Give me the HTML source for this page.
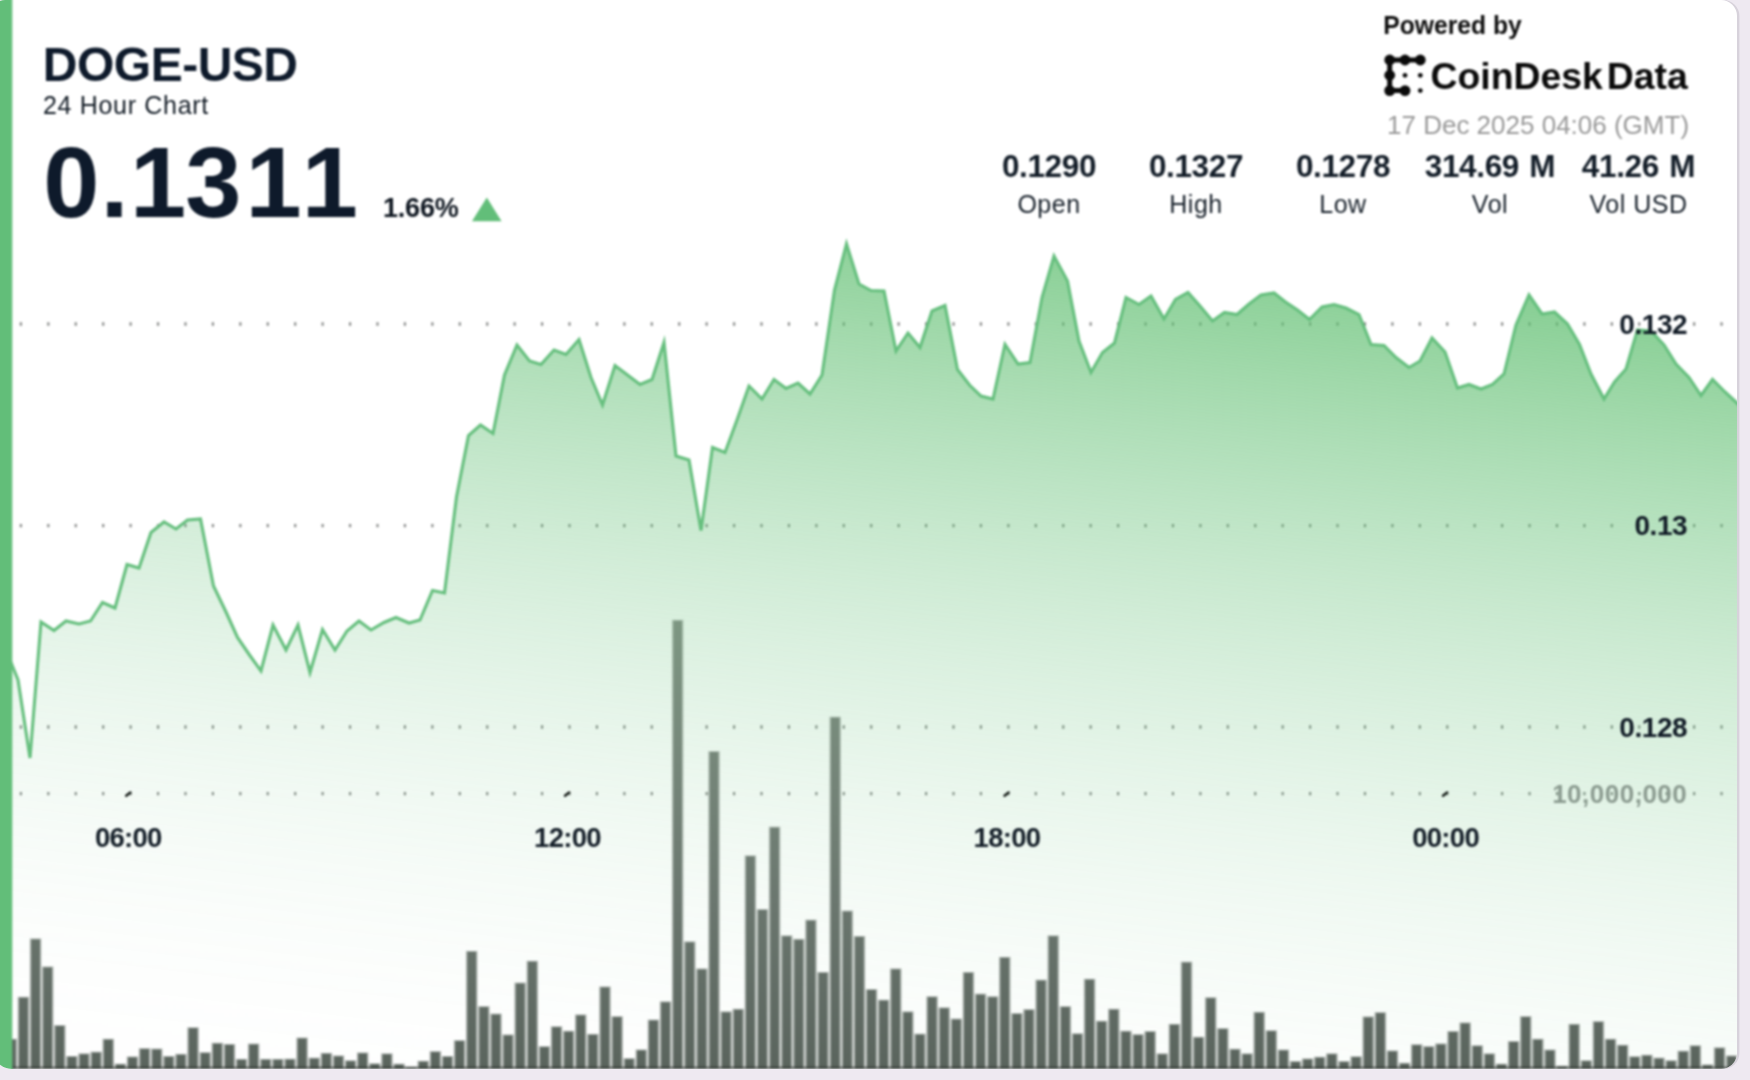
<!DOCTYPE html>
<html lang="en">
<head>
<meta charset="utf-8">
<title>DOGE-USD 24 Hour Chart</title>
<style>
  html, body { margin: 0; padding: 0; }
  body { width: 1750px; height: 1080px; overflow: hidden; background: #eee9f1; font-family: 'Liberation Sans', Arial, Helvetica, sans-serif; }
  .card { position: absolute; left: -7px; top: 0; width: 1743.8px; height: 1068.8px;
          background: #ffffff; border-radius: 12px 16px 16px 19px; overflow: hidden;
          box-shadow: 2.4px 0 0 0 #d7d2db; }
  svg { position: absolute; left: 7px; top: 0; filter: blur(0.8px); overflow: visible; }
  text { font-family: 'Liberation Sans', Arial, Helvetica, sans-serif; }
  .title { font-size: 48px; font-weight: 700; fill: #0e1a2b; letter-spacing: -0.5px; }
  .sub   { font-size: 25px; fill: #111a24; letter-spacing: 0.68px; }
  .price { font-size: 101px; font-weight: 700; fill: #0e1a2b; letter-spacing: 0px; }
  .pct   { font-size: 27px; font-weight: 700; fill: #0f1721; letter-spacing: -0.2px; }
  .pow   { font-size: 26.3px; font-weight: 700; fill: #0e0e0e; }
  .logo  { font-size: 37.5px; font-weight: 700; fill: #0a0a0a; }
  .ts    { font-size: 26px; fill: #989898; }
  .sv    { font-size: 31.5px; font-weight: 700; fill: #131d28; text-anchor: middle; letter-spacing: -0.35px; word-spacing: 2px; }
  .sl    { font-size: 25px; fill: #161f29; text-anchor: middle; letter-spacing: 0.5px; }
  .yl    { font-size: 28px; font-weight: 700; fill: #101a25; text-anchor: end; letter-spacing: -0.4px; }
  .vl    { font-size: 26px; font-weight: 700; fill: #8b9b90; text-anchor: end; letter-spacing: 0.5px; }
  .xl    { font-size: 27.5px; font-weight: 700; fill: #141e28; text-anchor: middle; letter-spacing: -0.7px; }
</style>
</head>
<body>
<div class="card">
<svg width="1750" height="1080" viewBox="0 0 1750 1080">
  <defs>
    <linearGradient id="fillg" gradientUnits="userSpaceOnUse" x1="1737.0" y1="230.0" x2="1611.6" y2="1275.0">
<stop offset="0.0000" stop-color="rgb(94,190,111)" stop-opacity="0.8896"/>
<stop offset="0.0625" stop-color="rgb(94,190,111)" stop-opacity="0.7819"/>
<stop offset="0.1250" stop-color="rgb(94,190,111)" stop-opacity="0.6811"/>
<stop offset="0.1875" stop-color="rgb(94,190,111)" stop-opacity="0.5872"/>
<stop offset="0.2500" stop-color="rgb(94,190,112)" stop-opacity="0.5003"/>
<stop offset="0.3125" stop-color="rgb(94,190,113)" stop-opacity="0.4204"/>
<stop offset="0.3750" stop-color="rgb(95,190,114)" stop-opacity="0.3474"/>
<stop offset="0.4375" stop-color="rgb(95,190,115)" stop-opacity="0.2814"/>
<stop offset="0.5000" stop-color="rgb(95,190,116)" stop-opacity="0.2223"/>
<stop offset="0.5625" stop-color="rgb(95,190,117)" stop-opacity="0.1702"/>
<stop offset="0.6250" stop-color="rgb(96,190,118)" stop-opacity="0.1250"/>
<stop offset="0.6875" stop-color="rgb(96,190,119)" stop-opacity="0.0868"/>
<stop offset="0.7500" stop-color="rgb(96,190,119)" stop-opacity="0.0555"/>
<stop offset="0.8125" stop-color="rgb(96,190,119)" stop-opacity="0.0312"/>
<stop offset="0.8750" stop-color="rgb(96,190,120)" stop-opacity="0.0139"/>
<stop offset="0.9375" stop-color="rgb(96,190,120)" stop-opacity="0.0035"/>
<stop offset="1.0000" stop-color="rgb(96,190,120)" stop-opacity="0.0000"/>
    </linearGradient>
    <linearGradient id="barg" gradientUnits="userSpaceOnUse" x1="0" y1="620" x2="0" y2="1069">
      <stop offset="0" stop-color="#7d9782"/>
      <stop offset="0.312" stop-color="#76877a"/>
      <stop offset="0.624" stop-color="#6b776f"/>
      <stop offset="1" stop-color="#5a645d"/>
    </linearGradient>
  </defs>

  <!-- grid -->
<line x1="19.8" y1="324" x2="1737" y2="324" stroke="#7d807e" stroke-opacity="0.9" stroke-width="3.3" stroke-dasharray="2.2 25.23" />
<line x1="19.8" y1="525.7" x2="1737" y2="525.7" stroke="#7d807e" stroke-opacity="0.9" stroke-width="3.3" stroke-dasharray="2.2 25.23" />
<line x1="19.8" y1="727" x2="1737" y2="727" stroke="#7d807e" stroke-opacity="0.9" stroke-width="3.3" stroke-dasharray="2.2 25.23" />
<line x1="19.8" y1="793.6" x2="1737" y2="793.6" stroke="#7d807e" stroke-opacity="0.9" stroke-width="3.3" stroke-dasharray="2.2 25.23" />

  <!-- price area -->
  <path d="M6 650 L18 680 L30 758 L41 622 L54 630.5 L66 621 L79 624 L90.5 621 L102.5 602.5 L115 608 L127 564.5 L139 568 L151 532.5 L164 522 L176 529 L187.5 520 L200.5 519 L213.5 586 L226 612 L237.5 637.5 L249.5 655 L261 671 L273 625 L286 650 L298 625 L310 672.5 L322.5 629.5 L335 650 L347 631 L359 621 L371 630 L384 622.5 L396 617.5 L409 623 L420 620 L432.5 590.5 L444.5 593 L456.5 497 L468.5 435.5 L480.5 425 L493 433.5 L504.5 375 L517 345 L529.5 361 L541 364.5 L554 350 L566 354.5 L579 339.5 L591 377.5 L602.5 405 L615 365.5 L627.5 375 L640 384.5 L652 379.5 L664 342.5 L676 456 L689 460 L701 530.5 L712.5 447.5 L725 452.5 L737 420 L749 386 L762 399 L774 379.5 L786 388.5 L798 383 L810 394 L822 375 L834.5 290 L846.5 244 L859 284 L871 290.5 L884 291 L896 351 L908 333 L920 347.5 L932 311 L945 305.5 L957.5 369.5 L969.5 385 L981 396 L993 399 L1005 344.5 L1018 364 L1030 362.5 L1042 297.5 L1054 256 L1067.5 281 L1079 341 L1091 372.5 L1102.5 352.5 L1114.5 343 L1126 297.5 L1139 304.5 L1151 296 L1164 319 L1175.5 299.5 L1188 292.5 L1200 306 L1212.5 321 L1224.5 312.5 L1237 314.5 L1249 304 L1261 295 L1274 293 L1285.5 302 L1297.5 310 L1309.5 319.5 L1322 307 L1334 304.5 L1346 308 L1359 314.5 L1371 344.5 L1384 345.5 L1396 357.5 L1409 367.5 L1420 361 L1432 338 L1445 352 L1457.5 388 L1469 384.5 L1481 389 L1492.5 384.5 L1504 374 L1516 325 L1529 295 L1542 314 L1554.5 312 L1567.5 324 L1579.5 344.5 L1591 374 L1604 399 L1614.5 382 L1626 369 L1637.5 330 L1651 331 L1664 345 L1676 364 L1689 377.5 L1701 395.5 L1712.5 379.5 L1725 392 L1738 404 L1752 417 L1752 1074.8 L-6 1074.8 L-6 620 Z" fill="url(#fillg)"/>

  <!-- volume bars -->
  <g fill="url(#barg)" opacity="0.5">
<rect x="5.55" y="1038.8" width="11.6" height="30.0"/>
<rect x="17.66" y="996.8" width="11.6" height="72.0"/>
<rect x="29.78" y="938.5" width="11.6" height="130.3"/>
<rect x="41.89" y="966.5" width="11.6" height="102.3"/>
<rect x="54.01" y="1025.1" width="11.6" height="43.7"/>
<rect x="66.13" y="1056" width="11.6" height="12.8"/>
<rect x="78.24" y="1053.4" width="11.6" height="15.4"/>
<rect x="90.36" y="1051.7" width="11.6" height="17.1"/>
<rect x="102.47" y="1038.8" width="11.6" height="30.0"/>
<rect x="114.59" y="1063.7" width="11.6" height="5.1"/>
<rect x="126.70" y="1056.5" width="11.6" height="12.3"/>
<rect x="138.82" y="1048.2" width="11.6" height="20.6"/>
<rect x="150.93" y="1048.6" width="11.6" height="20.2"/>
<rect x="163.05" y="1056" width="11.6" height="12.8"/>
<rect x="175.16" y="1053.9" width="11.6" height="14.9"/>
<rect x="187.28" y="1027.3" width="11.6" height="41.5"/>
<rect x="199.39" y="1052.2" width="11.6" height="16.6"/>
<rect x="211.51" y="1042.8" width="11.6" height="26.0"/>
<rect x="223.62" y="1044" width="11.6" height="24.8"/>
<rect x="235.74" y="1058.9" width="11.6" height="9.9"/>
<rect x="247.85" y="1043.6" width="11.6" height="25.2"/>
<rect x="259.96" y="1058.9" width="11.6" height="9.9"/>
<rect x="272.08" y="1058.9" width="11.6" height="9.9"/>
<rect x="284.19" y="1058.7" width="11.6" height="10.1"/>
<rect x="296.31" y="1037.6" width="11.6" height="31.2"/>
<rect x="308.42" y="1057.7" width="11.6" height="11.1"/>
<rect x="320.54" y="1052.9" width="11.6" height="15.9"/>
<rect x="332.65" y="1055.5" width="11.6" height="13.3"/>
<rect x="344.77" y="1060.3" width="11.6" height="8.5"/>
<rect x="356.88" y="1052.5" width="11.6" height="16.3"/>
<rect x="369.00" y="1063.3" width="11.6" height="5.5"/>
<rect x="381.11" y="1053.4" width="11.6" height="15.4"/>
<rect x="393.23" y="1063.7" width="11.6" height="5.1"/>
<rect x="405.34" y="1066.9" width="11.6" height="1.9"/>
<rect x="417.46" y="1060.8" width="11.6" height="8.0"/>
<rect x="429.57" y="1051.2" width="11.6" height="17.6"/>
<rect x="441.69" y="1056" width="11.6" height="12.8"/>
<rect x="453.80" y="1040.2" width="11.6" height="28.6"/>
<rect x="465.92" y="950.9" width="11.6" height="117.9"/>
<rect x="478.03" y="1006.2" width="11.6" height="62.6"/>
<rect x="490.15" y="1013.6" width="11.6" height="55.2"/>
<rect x="502.26" y="1034.5" width="11.6" height="34.3"/>
<rect x="514.38" y="982.6" width="11.6" height="86.2"/>
<rect x="526.50" y="960.8" width="11.6" height="108.0"/>
<rect x="538.61" y="1046.2" width="11.6" height="22.6"/>
<rect x="550.72" y="1026.3" width="11.6" height="42.5"/>
<rect x="562.84" y="1030.8" width="11.6" height="38.0"/>
<rect x="574.95" y="1014.5" width="11.6" height="54.3"/>
<rect x="587.07" y="1033.9" width="11.6" height="34.9"/>
<rect x="599.18" y="986.5" width="11.6" height="82.3"/>
<rect x="611.30" y="1016.2" width="11.6" height="52.6"/>
<rect x="623.41" y="1058.2" width="11.6" height="10.6"/>
<rect x="635.53" y="1049.5" width="11.6" height="19.3"/>
<rect x="647.64" y="1019.6" width="11.6" height="49.2"/>
<rect x="659.76" y="1001.4" width="11.6" height="67.4"/>
<rect x="671.88" y="619.8" width="11.6" height="449.0"/>
<rect x="683.99" y="941.4" width="11.6" height="127.4"/>
<rect x="696.11" y="968.5" width="11.6" height="100.3"/>
<rect x="708.22" y="751.1" width="11.6" height="317.7"/>
<rect x="720.33" y="1011.4" width="11.6" height="57.4"/>
<rect x="732.45" y="1008.8" width="11.6" height="60.0"/>
<rect x="744.56" y="855.4" width="11.6" height="213.4"/>
<rect x="756.68" y="909.1" width="11.6" height="159.7"/>
<rect x="768.79" y="826.7" width="11.6" height="242.1"/>
<rect x="780.91" y="935.4" width="11.6" height="133.4"/>
<rect x="793.02" y="938.9" width="11.6" height="129.9"/>
<rect x="805.14" y="919.7" width="11.6" height="149.1"/>
<rect x="817.25" y="972" width="11.6" height="96.8"/>
<rect x="829.37" y="716.7" width="11.6" height="352.1"/>
<rect x="841.49" y="910.6" width="11.6" height="158.2"/>
<rect x="853.60" y="936" width="11.6" height="132.8"/>
<rect x="865.71" y="989.1" width="11.6" height="79.7"/>
<rect x="877.83" y="999.7" width="11.6" height="69.1"/>
<rect x="889.94" y="968.5" width="11.6" height="100.3"/>
<rect x="902.06" y="1011.4" width="11.6" height="57.4"/>
<rect x="914.17" y="1033.7" width="11.6" height="35.1"/>
<rect x="926.29" y="996.3" width="11.6" height="72.5"/>
<rect x="938.40" y="1007.4" width="11.6" height="61.4"/>
<rect x="950.52" y="1018.6" width="11.6" height="50.2"/>
<rect x="962.63" y="972" width="11.6" height="96.8"/>
<rect x="974.75" y="993.7" width="11.6" height="75.1"/>
<rect x="986.87" y="996.3" width="11.6" height="72.5"/>
<rect x="998.98" y="956.9" width="11.6" height="111.9"/>
<rect x="1011.10" y="1013.1" width="11.6" height="55.7"/>
<rect x="1023.21" y="1009.2" width="11.6" height="59.6"/>
<rect x="1035.33" y="979.7" width="11.6" height="89.1"/>
<rect x="1047.44" y="935.4" width="11.6" height="133.4"/>
<rect x="1059.56" y="1006.2" width="11.6" height="62.6"/>
<rect x="1071.67" y="1033.3" width="11.6" height="35.5"/>
<rect x="1083.79" y="978.8" width="11.6" height="90.0"/>
<rect x="1095.90" y="1020.8" width="11.6" height="48.0"/>
<rect x="1108.02" y="1008.8" width="11.6" height="60.0"/>
<rect x="1120.13" y="1030.8" width="11.6" height="38.0"/>
<rect x="1132.25" y="1034.2" width="11.6" height="34.6"/>
<rect x="1144.36" y="1031.1" width="11.6" height="37.7"/>
<rect x="1156.48" y="1053.4" width="11.6" height="15.4"/>
<rect x="1168.59" y="1023.9" width="11.6" height="44.9"/>
<rect x="1180.71" y="961.7" width="11.6" height="107.1"/>
<rect x="1192.82" y="1036.8" width="11.6" height="32.0"/>
<rect x="1204.94" y="997.3" width="11.6" height="71.5"/>
<rect x="1217.05" y="1028.2" width="11.6" height="40.6"/>
<rect x="1229.17" y="1048.8" width="11.6" height="20.0"/>
<rect x="1241.28" y="1053.4" width="11.6" height="15.4"/>
<rect x="1253.40" y="1011.9" width="11.6" height="56.9"/>
<rect x="1265.51" y="1030.3" width="11.6" height="38.5"/>
<rect x="1277.63" y="1049.6" width="11.6" height="19.2"/>
<rect x="1289.74" y="1061.1" width="11.6" height="7.7"/>
<rect x="1301.86" y="1058.5" width="11.6" height="10.3"/>
<rect x="1313.97" y="1056.8" width="11.6" height="12.0"/>
<rect x="1326.09" y="1053.4" width="11.6" height="15.4"/>
<rect x="1338.20" y="1061.1" width="11.6" height="7.7"/>
<rect x="1350.32" y="1056.3" width="11.6" height="12.5"/>
<rect x="1362.43" y="1016.5" width="11.6" height="52.3"/>
<rect x="1374.55" y="1012.2" width="11.6" height="56.6"/>
<rect x="1386.66" y="1050.5" width="11.6" height="18.3"/>
<rect x="1398.78" y="1062.8" width="11.6" height="6.0"/>
<rect x="1410.89" y="1044.3" width="11.6" height="24.5"/>
<rect x="1423.01" y="1046.2" width="11.6" height="22.6"/>
<rect x="1435.12" y="1043.5" width="11.6" height="25.3"/>
<rect x="1447.24" y="1031.1" width="11.6" height="37.7"/>
<rect x="1459.35" y="1022.5" width="11.6" height="46.3"/>
<rect x="1471.47" y="1045.3" width="11.6" height="23.5"/>
<rect x="1483.58" y="1053.4" width="11.6" height="15.4"/>
<rect x="1495.70" y="1063.7" width="11.6" height="5.1"/>
<rect x="1507.81" y="1041.1" width="11.6" height="27.7"/>
<rect x="1519.93" y="1016.2" width="11.6" height="52.6"/>
<rect x="1532.04" y="1038.8" width="11.6" height="30.0"/>
<rect x="1544.16" y="1049.6" width="11.6" height="19.2"/>
<rect x="1556.27" y="1065.7" width="11.6" height="3.1"/>
<rect x="1568.39" y="1023.9" width="11.6" height="44.9"/>
<rect x="1580.50" y="1060.3" width="11.6" height="8.5"/>
<rect x="1592.62" y="1021.2" width="11.6" height="47.6"/>
<rect x="1604.73" y="1038.8" width="11.6" height="30.0"/>
<rect x="1616.85" y="1044.8" width="11.6" height="24.0"/>
<rect x="1628.96" y="1056.3" width="11.6" height="12.5"/>
<rect x="1641.08" y="1054.8" width="11.6" height="14.0"/>
<rect x="1653.19" y="1057.7" width="11.6" height="11.1"/>
<rect x="1665.31" y="1060.3" width="11.6" height="8.5"/>
<rect x="1677.42" y="1050.8" width="11.6" height="18.0"/>
<rect x="1689.54" y="1045.3" width="11.6" height="23.5"/>
<rect x="1701.65" y="1064.5" width="11.6" height="4.3"/>
<rect x="1713.77" y="1047.4" width="11.6" height="21.4"/>
<rect x="1725.88" y="1055.5" width="11.6" height="13.3"/>
  </g>
  <g fill="url(#barg)">
<rect x="7.00" y="1039.7" width="8.7" height="29.1"/>
<rect x="19.12" y="997.7" width="8.7" height="71.1"/>
<rect x="31.23" y="939.4" width="8.7" height="129.4"/>
<rect x="43.34" y="967.4" width="8.7" height="101.4"/>
<rect x="55.46" y="1026" width="8.7" height="42.8"/>
<rect x="67.58" y="1056.9" width="8.7" height="11.9"/>
<rect x="79.69" y="1054.3" width="8.7" height="14.5"/>
<rect x="91.81" y="1052.6" width="8.7" height="16.2"/>
<rect x="103.92" y="1039.7" width="8.7" height="29.1"/>
<rect x="116.03" y="1064.6" width="8.7" height="4.2"/>
<rect x="128.15" y="1057.4" width="8.7" height="11.4"/>
<rect x="140.27" y="1049.1" width="8.7" height="19.7"/>
<rect x="152.38" y="1049.5" width="8.7" height="19.3"/>
<rect x="164.50" y="1056.9" width="8.7" height="11.9"/>
<rect x="176.61" y="1054.8" width="8.7" height="14.0"/>
<rect x="188.72" y="1028.2" width="8.7" height="40.6"/>
<rect x="200.84" y="1053.1" width="8.7" height="15.7"/>
<rect x="212.96" y="1043.7" width="8.7" height="25.1"/>
<rect x="225.07" y="1044.9" width="8.7" height="23.9"/>
<rect x="237.19" y="1059.8" width="8.7" height="9.0"/>
<rect x="249.30" y="1044.5" width="8.7" height="24.3"/>
<rect x="261.42" y="1059.8" width="8.7" height="9.0"/>
<rect x="273.53" y="1059.8" width="8.7" height="9.0"/>
<rect x="285.64" y="1059.6" width="8.7" height="9.2"/>
<rect x="297.76" y="1038.5" width="8.7" height="30.3"/>
<rect x="309.88" y="1058.6" width="8.7" height="10.2"/>
<rect x="321.99" y="1053.8" width="8.7" height="15.0"/>
<rect x="334.11" y="1056.4" width="8.7" height="12.4"/>
<rect x="346.22" y="1061.2" width="8.7" height="7.6"/>
<rect x="358.33" y="1053.4" width="8.7" height="15.4"/>
<rect x="370.45" y="1064.2" width="8.7" height="4.6"/>
<rect x="382.56" y="1054.3" width="8.7" height="14.5"/>
<rect x="394.68" y="1064.6" width="8.7" height="4.2"/>
<rect x="406.80" y="1067.8" width="8.7" height="1.0"/>
<rect x="418.91" y="1061.7" width="8.7" height="7.1"/>
<rect x="431.03" y="1052.1" width="8.7" height="16.7"/>
<rect x="443.14" y="1056.9" width="8.7" height="11.9"/>
<rect x="455.25" y="1041.1" width="8.7" height="27.7"/>
<rect x="467.37" y="951.8" width="8.7" height="117.0"/>
<rect x="479.49" y="1007.1" width="8.7" height="61.7"/>
<rect x="491.60" y="1014.5" width="8.7" height="54.3"/>
<rect x="503.72" y="1035.4" width="8.7" height="33.4"/>
<rect x="515.83" y="983.5" width="8.7" height="85.3"/>
<rect x="527.95" y="961.7" width="8.7" height="107.1"/>
<rect x="540.06" y="1047.1" width="8.7" height="21.7"/>
<rect x="552.17" y="1027.2" width="8.7" height="41.6"/>
<rect x="564.29" y="1031.7" width="8.7" height="37.1"/>
<rect x="576.40" y="1015.4" width="8.7" height="53.4"/>
<rect x="588.52" y="1034.8" width="8.7" height="34.0"/>
<rect x="600.63" y="987.4" width="8.7" height="81.4"/>
<rect x="612.75" y="1017.1" width="8.7" height="51.7"/>
<rect x="624.87" y="1059.1" width="8.7" height="9.7"/>
<rect x="636.98" y="1050.4" width="8.7" height="18.4"/>
<rect x="649.10" y="1020.5" width="8.7" height="48.3"/>
<rect x="661.21" y="1002.3" width="8.7" height="66.5"/>
<rect x="673.33" y="620.7" width="8.7" height="448.1"/>
<rect x="685.44" y="942.3" width="8.7" height="126.5"/>
<rect x="697.56" y="969.4" width="8.7" height="99.4"/>
<rect x="709.67" y="752" width="8.7" height="316.8"/>
<rect x="721.78" y="1012.3" width="8.7" height="56.5"/>
<rect x="733.90" y="1009.7" width="8.7" height="59.1"/>
<rect x="746.01" y="856.3" width="8.7" height="212.5"/>
<rect x="758.13" y="910" width="8.7" height="158.8"/>
<rect x="770.25" y="827.6" width="8.7" height="241.2"/>
<rect x="782.36" y="936.3" width="8.7" height="132.5"/>
<rect x="794.48" y="939.8" width="8.7" height="129.0"/>
<rect x="806.59" y="920.6" width="8.7" height="148.2"/>
<rect x="818.71" y="972.9" width="8.7" height="95.9"/>
<rect x="830.82" y="717.6" width="8.7" height="351.2"/>
<rect x="842.94" y="911.5" width="8.7" height="157.3"/>
<rect x="855.05" y="936.9" width="8.7" height="131.9"/>
<rect x="867.16" y="990" width="8.7" height="78.8"/>
<rect x="879.28" y="1000.6" width="8.7" height="68.2"/>
<rect x="891.39" y="969.4" width="8.7" height="99.4"/>
<rect x="903.51" y="1012.3" width="8.7" height="56.5"/>
<rect x="915.62" y="1034.6" width="8.7" height="34.2"/>
<rect x="927.74" y="997.2" width="8.7" height="71.6"/>
<rect x="939.86" y="1008.3" width="8.7" height="60.5"/>
<rect x="951.97" y="1019.5" width="8.7" height="49.3"/>
<rect x="964.09" y="972.9" width="8.7" height="95.9"/>
<rect x="976.20" y="994.6" width="8.7" height="74.2"/>
<rect x="988.32" y="997.2" width="8.7" height="71.6"/>
<rect x="1000.43" y="957.8" width="8.7" height="111.0"/>
<rect x="1012.55" y="1014" width="8.7" height="54.8"/>
<rect x="1024.66" y="1010.1" width="8.7" height="58.7"/>
<rect x="1036.78" y="980.6" width="8.7" height="88.2"/>
<rect x="1048.89" y="936.3" width="8.7" height="132.5"/>
<rect x="1061.01" y="1007.1" width="8.7" height="61.7"/>
<rect x="1073.12" y="1034.2" width="8.7" height="34.6"/>
<rect x="1085.24" y="979.7" width="8.7" height="89.1"/>
<rect x="1097.35" y="1021.7" width="8.7" height="47.1"/>
<rect x="1109.46" y="1009.7" width="8.7" height="59.1"/>
<rect x="1121.58" y="1031.7" width="8.7" height="37.1"/>
<rect x="1133.69" y="1035.1" width="8.7" height="33.7"/>
<rect x="1145.81" y="1032" width="8.7" height="36.8"/>
<rect x="1157.92" y="1054.3" width="8.7" height="14.5"/>
<rect x="1170.04" y="1024.8" width="8.7" height="44.0"/>
<rect x="1182.15" y="962.6" width="8.7" height="106.2"/>
<rect x="1194.27" y="1037.7" width="8.7" height="31.1"/>
<rect x="1206.38" y="998.2" width="8.7" height="70.6"/>
<rect x="1218.50" y="1029.1" width="8.7" height="39.7"/>
<rect x="1230.62" y="1049.7" width="8.7" height="19.1"/>
<rect x="1242.73" y="1054.3" width="8.7" height="14.5"/>
<rect x="1254.85" y="1012.8" width="8.7" height="56.0"/>
<rect x="1266.96" y="1031.2" width="8.7" height="37.6"/>
<rect x="1279.08" y="1050.5" width="8.7" height="18.3"/>
<rect x="1291.19" y="1062" width="8.7" height="6.8"/>
<rect x="1303.31" y="1059.4" width="8.7" height="9.4"/>
<rect x="1315.42" y="1057.7" width="8.7" height="11.1"/>
<rect x="1327.54" y="1054.3" width="8.7" height="14.5"/>
<rect x="1339.65" y="1062" width="8.7" height="6.8"/>
<rect x="1351.77" y="1057.2" width="8.7" height="11.6"/>
<rect x="1363.88" y="1017.4" width="8.7" height="51.4"/>
<rect x="1376.00" y="1013.1" width="8.7" height="55.7"/>
<rect x="1388.11" y="1051.4" width="8.7" height="17.4"/>
<rect x="1400.23" y="1063.7" width="8.7" height="5.1"/>
<rect x="1412.34" y="1045.2" width="8.7" height="23.6"/>
<rect x="1424.45" y="1047.1" width="8.7" height="21.7"/>
<rect x="1436.57" y="1044.4" width="8.7" height="24.4"/>
<rect x="1448.68" y="1032" width="8.7" height="36.8"/>
<rect x="1460.80" y="1023.4" width="8.7" height="45.4"/>
<rect x="1472.91" y="1046.2" width="8.7" height="22.6"/>
<rect x="1485.03" y="1054.3" width="8.7" height="14.5"/>
<rect x="1497.14" y="1064.6" width="8.7" height="4.2"/>
<rect x="1509.26" y="1042" width="8.7" height="26.8"/>
<rect x="1521.38" y="1017.1" width="8.7" height="51.7"/>
<rect x="1533.49" y="1039.7" width="8.7" height="29.1"/>
<rect x="1545.61" y="1050.5" width="8.7" height="18.3"/>
<rect x="1557.72" y="1066.6" width="8.7" height="2.2"/>
<rect x="1569.84" y="1024.8" width="8.7" height="44.0"/>
<rect x="1581.95" y="1061.2" width="8.7" height="7.6"/>
<rect x="1594.07" y="1022.1" width="8.7" height="46.7"/>
<rect x="1606.18" y="1039.7" width="8.7" height="29.1"/>
<rect x="1618.30" y="1045.7" width="8.7" height="23.1"/>
<rect x="1630.41" y="1057.2" width="8.7" height="11.6"/>
<rect x="1642.53" y="1055.7" width="8.7" height="13.1"/>
<rect x="1654.64" y="1058.6" width="8.7" height="10.2"/>
<rect x="1666.76" y="1061.2" width="8.7" height="7.6"/>
<rect x="1678.87" y="1051.7" width="8.7" height="17.1"/>
<rect x="1690.99" y="1046.2" width="8.7" height="22.6"/>
<rect x="1703.10" y="1065.4" width="8.7" height="3.4"/>
<rect x="1715.21" y="1048.3" width="8.7" height="20.5"/>
<rect x="1727.33" y="1056.4" width="8.7" height="12.4"/>
  </g>
  <rect x="0" y="1066.6" width="1740" height="2.4" fill="#2c302d" opacity="0.6"/>

<path d="M126.2 795.8 L130.4 792.4" stroke="#101612" stroke-width="2.4" stroke-linecap="round"/>
<path d="M565.0 795.8 L569.2 792.4" stroke="#101612" stroke-width="2.4" stroke-linecap="round"/>
<path d="M1004.5 795.8 L1008.7 792.4" stroke="#101612" stroke-width="2.4" stroke-linecap="round"/>
<path d="M1443.0 795.8 L1447.2 792.4" stroke="#101612" stroke-width="2.4" stroke-linecap="round"/>

  <!-- price line -->
  <path d="M6 650 L18 680 L30 758 L41 622 L54 630.5 L66 621 L79 624 L90.5 621 L102.5 602.5 L115 608 L127 564.5 L139 568 L151 532.5 L164 522 L176 529 L187.5 520 L200.5 519 L213.5 586 L226 612 L237.5 637.5 L249.5 655 L261 671 L273 625 L286 650 L298 625 L310 672.5 L322.5 629.5 L335 650 L347 631 L359 621 L371 630 L384 622.5 L396 617.5 L409 623 L420 620 L432.5 590.5 L444.5 593 L456.5 497 L468.5 435.5 L480.5 425 L493 433.5 L504.5 375 L517 345 L529.5 361 L541 364.5 L554 350 L566 354.5 L579 339.5 L591 377.5 L602.5 405 L615 365.5 L627.5 375 L640 384.5 L652 379.5 L664 342.5 L676 456 L689 460 L701 530.5 L712.5 447.5 L725 452.5 L737 420 L749 386 L762 399 L774 379.5 L786 388.5 L798 383 L810 394 L822 375 L834.5 290 L846.5 244 L859 284 L871 290.5 L884 291 L896 351 L908 333 L920 347.5 L932 311 L945 305.5 L957.5 369.5 L969.5 385 L981 396 L993 399 L1005 344.5 L1018 364 L1030 362.5 L1042 297.5 L1054 256 L1067.5 281 L1079 341 L1091 372.5 L1102.5 352.5 L1114.5 343 L1126 297.5 L1139 304.5 L1151 296 L1164 319 L1175.5 299.5 L1188 292.5 L1200 306 L1212.5 321 L1224.5 312.5 L1237 314.5 L1249 304 L1261 295 L1274 293 L1285.5 302 L1297.5 310 L1309.5 319.5 L1322 307 L1334 304.5 L1346 308 L1359 314.5 L1371 344.5 L1384 345.5 L1396 357.5 L1409 367.5 L1420 361 L1432 338 L1445 352 L1457.5 388 L1469 384.5 L1481 389 L1492.5 384.5 L1504 374 L1516 325 L1529 295 L1542 314 L1554.5 312 L1567.5 324 L1579.5 344.5 L1591 374 L1604 399 L1614.5 382 L1626 369 L1637.5 330 L1651 331 L1664 345 L1676 364 L1689 377.5 L1701 395.5 L1712.5 379.5 L1725 392 L1738 404 L1752 417" fill="none" stroke="#66bf7e" stroke-width="3.1" stroke-linejoin="miter" stroke-miterlimit="6" stroke-linecap="round"/>

  <!-- left accent bar -->
  <rect x="-10" y="-10" width="22.3" height="1100" fill="#62be79"/>

  <!-- header -->
  <text x="42.8" y="81.4" class="title">DOGE-USD</text>
  <text x="43" y="114" class="sub">24 Hour Chart</text>
  <text x="43.3 100.5 130.1 185.3 245.5 301.7" y="216.9" class="price">0.1311</text>
  <text x="383" y="216.9" class="pct">1.66%</text>
  <path d="M472 221.3 L501.6 221.3 L486.8 197.6 Z" fill="#62be79"/>

  <text x="1383.2" y="34.1" class="pow" textLength="138.5" lengthAdjust="spacingAndGlyphs">Powered by</text>
  <g fill="#0a0a0a" stroke="#0a0a0a">
    <path d="M1420.3 60 L1389.7 60 L1389.7 90.6 L1405 90.6" fill="none" stroke-width="5" stroke-linejoin="round" stroke-linecap="round"/>
    <g stroke="none">
      <circle cx="1389.7" cy="60" r="5.4"/><circle cx="1405" cy="60" r="5.4"/><circle cx="1420.3" cy="60" r="5.4"/>
      <circle cx="1389.7" cy="75.3" r="5.4"/><circle cx="1389.7" cy="90.6" r="5.4"/><circle cx="1405" cy="90.6" r="5.4"/>
      <circle cx="1405" cy="75.3" r="2.4"/><circle cx="1420.3" cy="75.3" r="2.4"/><circle cx="1420.3" cy="90.6" r="2.4"/>
    </g>
  </g>
  <text x="1430.5" y="88.5" class="logo" textLength="172.3" lengthAdjust="spacingAndGlyphs">CoinDesk</text>
  <text x="1606.8" y="88.5" class="logo" textLength="81" lengthAdjust="spacingAndGlyphs">Data</text>
  <text x="1387" y="134" class="ts">17 Dec 2025 04:06 (GMT)</text>

<text x="1049" y="177" class="sv">0.1290</text><text x="1049" y="212.7" class="sl">Open</text>
<text x="1196" y="177" class="sv">0.1327</text><text x="1196" y="212.7" class="sl">High</text>
<text x="1343" y="177" class="sv">0.1278</text><text x="1343" y="212.7" class="sl">Low</text>
<text x="1490" y="177" class="sv">314.69 M</text><text x="1490" y="212.7" class="sl">Vol</text>
<text x="1638.5" y="177" class="sv">41.26 M</text><text x="1638.5" y="212.7" class="sl">Vol USD</text>

  <!-- axis labels -->
  <text x="1687.3" y="333.7" class="yl">0.132</text>
  <text x="1687.3" y="535" class="yl">0.13</text>
  <text x="1687.3" y="736.8" class="yl">0.128</text>
  <text x="1687.3" y="803" class="vl">10,000,000</text>

  <text x="128.3" y="847.4" class="xl">06:00</text>
  <text x="567.5" y="847.4" class="xl">12:00</text>
  <text x="1007" y="847.4" class="xl">18:00</text>
  <text x="1445.6" y="847.4" class="xl">00:00</text>
</svg>
</div>
</body>
</html>
